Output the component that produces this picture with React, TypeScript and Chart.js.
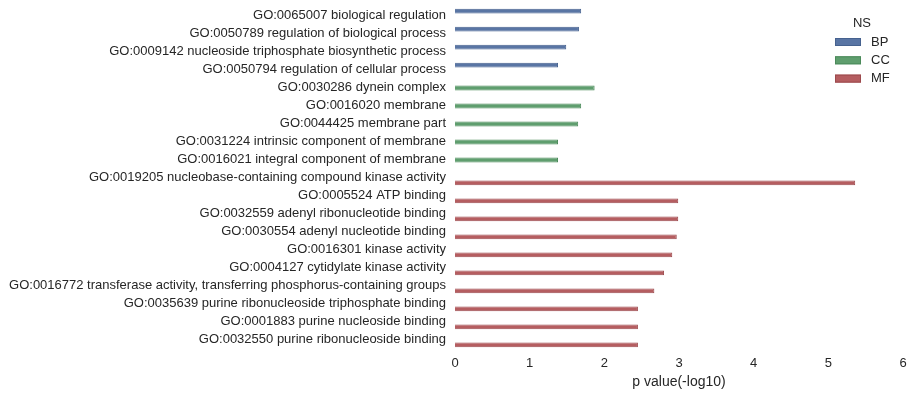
import { useEffect, useRef } from 'react';
import { Chart, registerables } from 'chart.js';

Chart.register(...registerables);

const categories = [
  'GO:0065007 biological regulation',
  'GO:0050789 regulation of biological process',
  'GO:0009142 nucleoside triphosphate biosynthetic process',
  'GO:0050794 regulation of cellular process',
  'GO:0030286 dynein complex',
  'GO:0016020 membrane',
  'GO:0044425 membrane part',
  'GO:0031224 intrinsic component of membrane',
  'GO:0016021 integral component of membrane',
  'GO:0019205 nucleobase-containing compound kinase activity',
  'GO:0005524 ATP binding',
  'GO:0032559 adenyl ribonucleotide binding',
  'GO:0030554 adenyl nucleotide binding',
  'GO:0016301 kinase activity',
  'GO:0004127 cytidylate kinase activity',
  'GO:0016772 transferase activity, transferring phosphorus-containing groups',
  'GO:0035639 purine ribonucleoside triphosphate binding',
  'GO:0001883 purine nucleoside binding',
  'GO:0032550 purine ribonucleoside binding',
];

const namespaces = [
  'BP', 'BP', 'BP', 'BP',
  'CC', 'CC', 'CC', 'CC', 'CC',
  'MF', 'MF', 'MF', 'MF', 'MF', 'MF', 'MF', 'MF', 'MF', 'MF',
];

const pValues = [
  1.69, 1.66, 1.49, 1.38,
  1.87, 1.69, 1.65, 1.38, 1.38,
  5.36, 2.99, 2.99, 2.97, 2.91, 2.80, 2.67, 2.45, 2.45, 2.45,
];

const nsOrder = ['BP', 'CC', 'MF'];
const nsColors = ['#5975a4', '#5f9e6e', '#b55d60'];
const nsBorders = ['#46628f', '#4b8a5a', '#9c4a4d'];

const xMin = 0;
const xMax = 6;
const xStep = 1;

const legendTitle = 'NS';
const xTitle = 'p value(-log10)';

const FONT = '"Liberation Sans", Arial, sans-serif';
const TEXT = '#262626';

const legendPlugin = {
  id: 'nsLegend',
  afterDraw(chart: any) {
    const ctx = chart.ctx as CanvasRenderingContext2D;
    ctx.save();
    ctx.fillStyle = TEXT;
    ctx.font = `13px ${FONT}`;
    ctx.textAlign = 'center';
    ctx.textBaseline = 'middle';
    ctx.fillText(legendTitle, 862, 23);
    chart.data.datasets.forEach((ds: any, i: number) => {
      const cy = 42 + i * 18.3;
      ctx.fillStyle = ds.backgroundColor;
      ctx.fillRect(835, cy - 4, 26, 8);
      ctx.strokeStyle = ds.borderColor;
      ctx.lineWidth = 1;
      ctx.strokeRect(835.5, cy - 3.5, 25, 7);
      ctx.fillStyle = TEXT;
      ctx.textAlign = 'left';
      ctx.fillText(ds.label, 871, cy);
    });
    ctx.restore();
  },
};

export default function App() {
  const ref = useRef<HTMLCanvasElement | null>(null);

  useEffect(() => {
    if (!ref.current) return;
    const datasets = nsOrder.map((ns, k) => ({
      label: ns,
      data: pValues.map((v, i) => (namespaces[i] === ns ? v : null)),
      backgroundColor: nsColors[k],
      borderColor: nsBorders[k],
      borderWidth: 1,
      categoryPercentage: 0.8,
      barPercentage: 1.0,
    }));
    const chart = new Chart(ref.current, {
      type: 'bar',
      data: { labels: categories, datasets },
      options: {
        indexAxis: 'y',
        responsive: false,
        animation: false,
        layout: { padding: { top: 7, right: 9, left: 0, bottom: 0 } },
        plugins: {
          legend: { display: false },
          tooltip: { enabled: false },
        },
        scales: {
          x: {
            type: 'linear',
            min: xMin,
            max: xMax,
            grid: { display: false, drawTicks: false },
            border: { display: false },
            ticks: {
              stepSize: xStep,
              color: TEXT,
              padding: 7,
              font: { family: FONT, size: 13 },
            },
            title: {
              display: true,
              text: xTitle,
              color: TEXT,
              font: { family: FONT, size: 14 },
              padding: { top: 0, bottom: 6 },
            },
            afterFit: (scale: any) => {
              scale.height = 48;
              scale.paddingLeft = 0;
              scale.paddingRight = 0;
            },
          },
          y: {
            type: 'category',
            grid: { display: false, drawTicks: false },
            border: { display: false },
            ticks: {
              color: TEXT,
              padding: 9,
              labelOffset: -1,
              autoSkip: false,
              font: { family: FONT, size: 13 },
            },
            afterFit: (scale: any) => {
              scale.width = 455;
              scale.paddingTop = 0;
              scale.paddingBottom = 0;
            },
          },
        },
      },
      plugins: [legendPlugin],
    });
    return () => chart.destroy();
  }, []);

  return (
    <div style={{ position: 'fixed', left: 0, top: 0, width: 912, height: 397, background: '#fff' }}>
      <canvas ref={ref} width={912} height={397} style={{ display: 'block' }} />
    </div>
  );
}
